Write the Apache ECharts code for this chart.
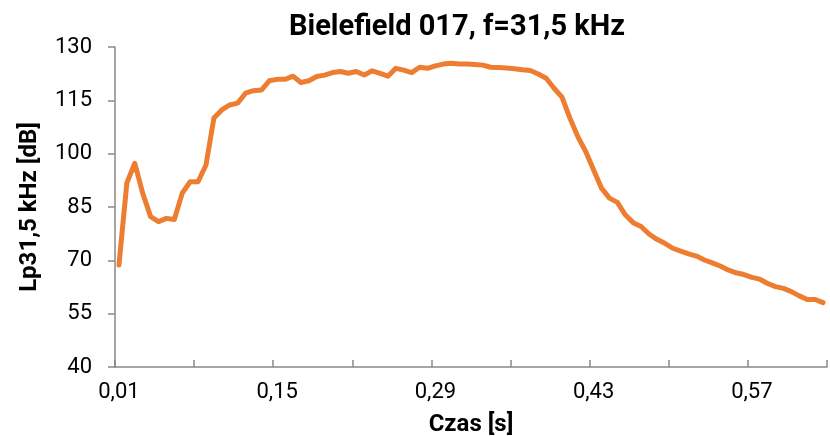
<!DOCTYPE html>
<html>
<head>
<meta charset="utf-8">
<script src="https://cdn.jsdelivr.net/npm/echarts@6/dist/echarts.min.js"></script>
<style>
  html, body { margin: 0; padding: 0; background: #fff; }
  #chart { width: 830px; height: 436px; }
</style>
</head>
<body>
<div id="chart"></div>
<script>
// time axis: samples every 0.007 s starting at 0.01 s
const sampleCount = 90;
const timeCategories = [];
for (let i = 0; i < sampleCount; i++) {
  timeCategories.push((0.01 + i * 0.007).toFixed(2).replace('.', ','));
}

// Lp31,5 kHz [dB]
const levelRise = [
  68.7, 91.8, 97.3, 88.9, 82.3, 80.9, 81.8, 81.5, 88.9, 92.1,
  92.1, 96.8, 110.0, 112.3, 113.7, 114.2, 117.0, 117.7, 117.9, 120.5
];
const levelPlateau = [
  120.9, 120.9, 121.8, 120.0, 120.5, 121.7, 122.1, 122.8, 123.1, 122.6,
  123.1, 122.1, 123.3, 122.6, 121.8, 124.0, 123.5, 122.8, 124.3, 124.0,
  124.7, 125.2, 125.4, 125.2, 125.2, 125.1, 124.9, 124.3, 124.2, 124.1,
  123.9, 123.6, 123.4, 122.4, 121.2
];
const levelDecay = [
  118.4, 115.9, 110.0, 104.8, 100.6, 95.4, 90.3, 87.5, 86.3, 82.8,
  80.6, 79.5, 77.4, 75.9, 74.8, 73.4, 72.6, 71.8, 71.2, 70.1,
  69.3, 68.4, 67.3, 66.5, 66.0, 65.2, 64.7, 63.5, 62.6, 62.1,
  61.2, 60.0, 59.0, 59.0, 58.1
];
const levelValues = levelRise.concat(levelPlateau, levelDecay);

const yTicks = [40, 55, 70, 85, 100, 115, 130];

const fontFamily = 'Roboto';
const axisGray = '#898989';

const chart = echarts.init(document.getElementById('chart'));

chart.setOption({
  animation: false,
  title: {
    text: 'Bielefield 017, f=31,5 kHz',
    left: 284,
    top: 8,
    textStyle: {
      fontFamily: fontFamily,
      fontSize: 29,
      fontWeight: 'bold',
      color: '#000'
    }
  },
  grid: {
    left: 115,
    right: 3,
    top: 47,
    bottom: 69,
    outerBoundsMode: 'none'
  },
  xAxis: {
    type: 'category',
    data: timeCategories,
    boundaryGap: true,
    name: 'Czas [s]',
    nameLocation: 'middle',
    nameGap: 46,
    nameTextStyle: {
      fontFamily: fontFamily,
      fontSize: 24,
      fontWeight: 'bold',
      color: '#000'
    },
    axisLine: {
      show: true,
      lineStyle: { color: axisGray, width: 1.5 }
    },
    axisTick: {
      show: true,
      inside: true,
      length: 7,
      interval: 9,
      lineStyle: { color: axisGray, width: 1.5 }
    },
    axisLabel: {
      interval: 19,
      margin: 14,
      fontFamily: fontFamily,
      fontSize: 22,
      color: '#000'
    },
    splitLine: { show: false }
  },
  yAxis: {
    type: 'value',
    min: yTicks[0],
    max: yTicks[yTicks.length - 1],
    interval: 15,
    name: 'Lp31,5 kHz [dB]',
    nameLocation: 'middle',
    nameGap: 73,
    nameTextStyle: {
      fontFamily: fontFamily,
      fontSize: 24,
      fontWeight: 'bold',
      color: '#000'
    },
    axisLine: {
      show: true,
      lineStyle: { color: axisGray, width: 1.5 }
    },
    axisTick: {
      show: true,
      length: 7,
      lineStyle: { color: axisGray, width: 1.5 }
    },
    axisLabel: {
      margin: 23,
      fontFamily: fontFamily,
      fontSize: 22,
      color: '#000'
    },
    splitLine: { show: false }
  },
  series: [
    {
      type: 'line',
      data: levelValues,
      symbol: 'none',
      smooth: false,
      lineStyle: {
        color: '#ED7D31',
        width: 5,
        cap: 'round',
        join: 'round'
      }
    }
  ]
});
</script>
</body>
</html>
